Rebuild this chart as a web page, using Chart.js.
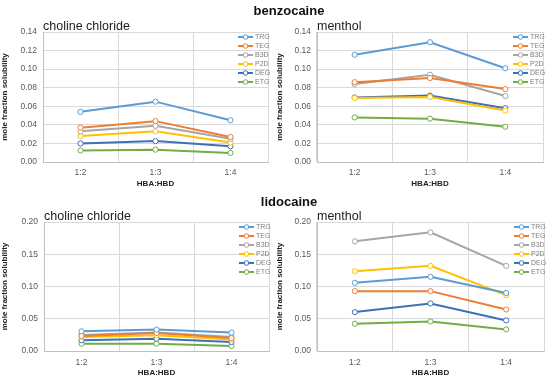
<!DOCTYPE html>
<html>
<head>
<meta charset="utf-8">
<script src="https://cdn.jsdelivr.net/npm/chart.js@4.4.1/dist/chart.umd.min.js"></script>
<style>
  body { margin: 0; background: #fff; font-family: "Liberation Sans", Arial, sans-serif; }
  #wrap { position: relative; width: 550px; height: 383px; overflow: hidden; }
  .panel { position: absolute; width: 275px; }
  .drug { position: absolute; width: 550px; text-align: center; font-weight: bold; font-size: 13px; color: #111; }
  .sub { position: absolute; font-size: 12.5px; color: #222; }
</style>
</head>
<body>
<div id="wrap">
  <div class="panel" style="left:0;top:0;height:190px"><canvas id="benzoChCl"></canvas></div>
  <div class="panel" style="left:275px;top:0;height:190px"><canvas id="benzoMenthol"></canvas></div>
  <div class="panel" style="left:0;top:190px;height:193px"><canvas id="lidoChCl"></canvas></div>
  <div class="panel" style="left:275px;top:190px;height:193px"><canvas id="lidoMenthol"></canvas></div>

  <div class="drug" style="left:14px;top:3px">benzocaine</div>
  <div class="drug" style="left:14px;top:194px">lidocaine</div>
  <div class="sub" style="left:43px;top:19px">choline chloride</div>
  <div class="sub" style="left:317px;top:19px">menthol</div>
  <div class="sub" style="left:44px;top:209px">choline chloride</div>
  <div class="sub" style="left:317px;top:209px">menthol</div>
</div>
<script>
// x categories and series
let categories = ["1:2", "1:3", "1:4"];
let seriesNames = ["TRG", "TEG", "B3D", "P2D", "DEG", "ETG"];

// one row per series, same order as seriesNames
let benzocaineChCl = [
    [0.054, 0.065, 0.045],
    [0.037, 0.044, 0.027],
    [0.033, 0.039, 0.025],
    [0.028, 0.033, 0.021],
    [0.020, 0.0225, 0.017],
    [0.0125, 0.0133, 0.0098]
];
let benzocaineMenthol = [
    [0.1155, 0.129, 0.101],
    [0.086, 0.0905, 0.0785],
    [0.084, 0.094, 0.071],
    [0.069, 0.070, 0.0555],
    [0.0695, 0.0715, 0.058],
    [0.048, 0.0467, 0.038]
];
let lidocaineChCl = [
    [0.0306, 0.0332, 0.0286],
    [0.0234, 0.028, 0.020],
    [0.025, 0.0286, 0.0218],
    [0.0218, 0.0244, 0.018],
    [0.0166, 0.019, 0.014],
    [0.0114, 0.0114, 0.0078]
];
let lidocaineMenthol = [
    [0.1057, 0.115, 0.090],
    [0.0928, 0.0928, 0.0644],
    [0.170, 0.184, 0.132],
    [0.1237, 0.132, 0.0866],
    [0.0603, 0.0737, 0.0474],
    [0.0423, 0.0459, 0.0335]
];

let seriesColors = ["#5B9BD5", "#ED7D31", "#A5A5A5", "#FFC000", "#3E70B8", "#70AD47"];
let gridColor = "#D9D9D9";
let tickColor = "#595959";

// legend drawn inside the plot, top right
let innerLegend = {
    id: "innerLegend",
    afterDatasetsDraw(chart) {
        let ctx = chart.ctx;
        let a = chart.chartArea;
        ctx.save();
        chart.data.datasets.forEach(function(ds, i){
            let y = a.top + 5 + i * 9;
            ctx.strokeStyle = ds.borderColor;
            ctx.lineWidth = 2;
            ctx.beginPath();
            ctx.moveTo(a.right - 30, y);
            ctx.lineTo(a.right - 15, y);
            ctx.stroke();
            ctx.beginPath();
            ctx.arc(a.right - 22.5, y, 2.3, 0, Math.PI * 2);
            ctx.fillStyle = "#fff";
            ctx.fill();
            ctx.lineWidth = 1;
            ctx.stroke();
            ctx.fillStyle = "#7F7F7F";
            ctx.font = "7px 'Liberation Sans', Arial, sans-serif";
            ctx.textBaseline = "middle";
            ctx.fillText(ds.label, a.right - 13, y + 0.5);
        });
        ctx.restore();
    }
};

function makeChart(id, rows, yMax, yStep, yWidth, xHeight, pad, yTitlePad, xTickPad, xTitlePad){
    let datasets = [];
    for(let i = 0; i < seriesNames.length; i++){
        datasets.push({
            label: seriesNames[i],
            data: rows[i],
            borderColor: seriesColors[i],
            backgroundColor: "#fff",
            pointBackgroundColor: "#fff",
            pointBorderColor: seriesColors[i],
            pointBorderWidth: 1,
            pointRadius: 2.6,
            borderWidth: 2,
            tension: 0
        });
    }
    return new Chart(document.getElementById(id), {
        type: "line",
        data: { labels: categories, datasets: datasets },
        plugins: [innerLegend],
        options: {
            responsive: true,
            maintainAspectRatio: false,
            animation: false,
            layout: { padding: pad },
            plugins: { legend: { display: false }, tooltip: { enabled: false } },
            scales: {
                x: {
                    offset: true,
                    grid: { color: gridColor, drawTicks: false, offset: true },
                    border: { color: "#BFBFBF" },
                    ticks: { color: tickColor, padding: xTickPad, font: { size: 8.5, family: "'Liberation Sans', Arial" } },
                    title: { display: true, text: "HBA:HBD", color: "#222", padding: { top: 0, bottom: xTitlePad },
                             font: { size: 8, weight: "bold", family: "'Liberation Sans', Arial" } },
                    afterFit: function(s){ s.height = xHeight; }
                },
                y: {
                    min: 0,
                    max: yMax,
                    grid: { color: gridColor, drawTicks: false },
                    border: { color: "#BFBFBF" },
                    ticks: { stepSize: yStep, color: tickColor, padding: 6,
                             font: { size: 8.5, family: "'Liberation Sans', Arial" },
                             callback: function(v){ return v.toFixed(2); } },
                    title: { display: true, text: "mole fraction solubility", color: "#222", padding: { top: 0, bottom: yTitlePad },
                             font: { size: 8, weight: "bold", family: "'Liberation Sans', Arial" } },
                    afterFit: function(s){ s.width = yWidth; }
                }
            }
        }
    });
}

makeChart("benzoChCl", benzocaineChCl, 0.14, 0.02, 43, 28, { top: 32, right: 7, left: 0, bottom: 0 }, 0, 6, 1);
makeChart("benzoMenthol", benzocaineMenthol, 0.14, 0.02, 42, 28, { top: 32, right: 7, left: 0, bottom: 0 }, 0, 6, 1);
makeChart("lidoChCl", lidocaineChCl, 0.20, 0.05, 44, 32, { top: 32, right: 6, left: 0, bottom: 0 }, 0, 7, 5);
makeChart("lidoMenthol", lidocaineMenthol, 0.20, 0.05, 42, 32, { top: 32, right: 6, left: 0, bottom: 0 }, 0, 7, 5);
</script>
</body>
</html>
